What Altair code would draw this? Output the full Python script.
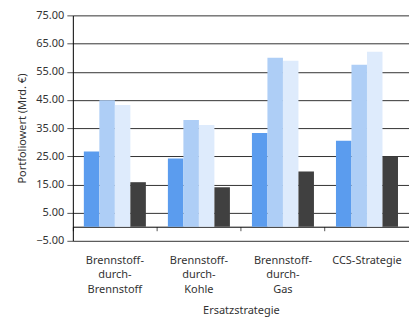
import altair as alt
import pandas as pd

categories = ["Brennstoff-|durch-|Brennstoff", "Brennstoff-|durch-|Kohle",
              "Brennstoff-|durch-|Gas", "CCS-Strategie"]
series = ["Serie 1", "Serie 2", "Serie 3", "Serie 4"]
values = {
    "Serie 1": [26.7, 24.2, 33.3, 30.5],
    "Serie 2": [44.9, 37.9, 60.0, 57.5],
    "Serie 3": [43.2, 36.1, 58.9, 62.1],
    "Serie 4": [15.8, 14.0, 19.6, 24.8],
}
colors = ["#5B9CEE", "#AECEF6", "#DEEBFC", "#404040"]
y_ticks = [-5, 5, 15, 25, 35, 45, 55, 65, 75]

rows = []
for s in series:
    for c, v in zip(categories, values[s]):
        rows.append({"Ersatzstrategie": c, "Serie": s, "Wert": v})
df = pd.DataFrame(rows)

FONT = "Noto Sans"
H = 226

chart = alt.Chart(df).mark_bar().encode(
    x=alt.X("Ersatzstrategie:N", sort=categories,
            scale=alt.Scale(paddingInner=0, paddingOuter=0),
            axis=alt.Axis(title="Ersatzstrategie", labelAngle=0,
                          labelExpr="split(datum.label, '|')",
                          bandPosition=0, offset=-H * 5 / 80,
                          domainColor="#000", tickColor="#555", tickSize=4,
                          labelPadding=24, labelLineHeight=14.3,
                          labelBaseline="top", titlePadding=10,
                          labelFont=FONT, titleFont=FONT, labelFontSize=11,
                          titleFontSize=11, titleFontWeight="normal",
                          labelColor="#333", titleColor="#333", grid=False)),
    xOffset=alt.XOffset("Serie:N", sort=series,
                        scale=alt.Scale(paddingInner=0, paddingOuter=0.71)),
    y=alt.Y("Wert:Q", scale=alt.Scale(domain=[-5, 75], nice=False, zero=False),
            axis=alt.Axis(title="Portfoliowert (Mrd. €)", values=y_ticks,
                          format=".2f", grid=True, gridColor="#333",
                          gridOpacity=1, domainColor="#000", tickColor="#555",
                          tickSize=6, labelPadding=3, titlePadding=8,
                          labelFont=FONT, titleFont=FONT, labelFontSize=11,
                          titleFontSize=11, titleFontWeight="normal",
                          labelColor="#333", titleColor="#333")),
    color=alt.Color("Serie:N", sort=series,
                    scale=alt.Scale(domain=series, range=colors), legend=None),
).properties(
    width=337, height=H,
    autosize=alt.AutoSizeParams(type="none"),
    padding={"left": 65, "top": 7, "right": 0, "bottom": 80},
).configure_view(stroke=None)

chart.save("out.html", embed_options={"renderer": "svg", "actions": False})
